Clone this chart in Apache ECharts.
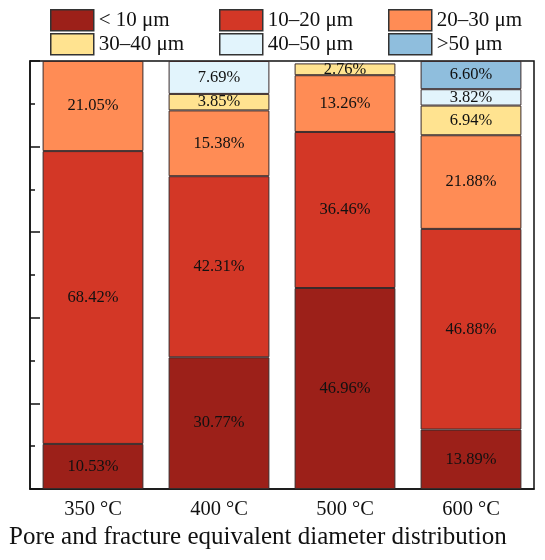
<!DOCTYPE html>
<html><head><meta charset="utf-8">
<script src="https://cdn.jsdelivr.net/npm/echarts@6/dist/echarts.min.js"></script>
<style>html,body{margin:0;padding:0;background:#fff}#c{width:545px;height:560px}</style>
</head><body><div id="c"></div>
<script>
var categories = ['350 °C', '400 °C', '500 °C', '600 °C'];
var seriesNames = ['< 10 μm', '10–20 μm', '20–30 μm', '30–40 μm', '40–50 μm', '>50 μm'];
var lt10 = [10.53, 30.77, 46.96, 13.89];
var s10to20 = [68.42, 42.31, 36.46, 46.88];
var s20to30 = [21.05, 15.38, 13.26, 21.88];
var s30to40 = [null, 3.85, 2.76, 6.94];
var s40to50 = [null, 7.69, null, 3.82];
var gt50 = [null, null, null, 6.60];
var colors = ['#9C2019', '#D33726', '#FF8C55', '#FFE390', '#E2F4FC', '#8FBEDD'];
var allData = [lt10, s10to20, s20to30, s30to40, s40to50, gt50];
var titleText = 'Pore and fracture equivalent diameter distribution';

var font = 'Liberation Serif';
var legendPos = [[50, 9], [219, 9], [388, 9], [50, 33], [219, 33], [388, 33]];
var legends = seriesNames.map(function (n, i) {
  return {
    data: [n], left: legendPos[i][0], top: legendPos[i][1], padding: 0,
    itemWidth: 43, itemHeight: 21, itemGap: 5,
    textStyle: { fontFamily: font, fontSize: 21, color: '#111' },
    itemStyle: { borderColor: '#333', borderWidth: 1.5 },
    icon: 'rect'
  };
});
var series = seriesNames.map(function (n, i) {
  return {
    name: n, type: 'bar', stack: 'all', barWidth: '80%',
    data: allData[i],
    itemStyle: { color: colors[i], borderColor: '#3a2a2a', borderWidth: 1 },
    label: {
      show: true, position: 'inside', color: '#111', fontFamily: font, fontSize: 16.5,
      formatter: function (p) { return p.value == null ? '' : p.value.toFixed(2) + '%'; }
    }
  };
});
var chart = echarts.init(document.getElementById('c'));
chart.setOption({
  animation: false,
  legend: legends,
  title: { text: titleText, left: 9, top: 525, padding: 0, textStyle: { fontFamily: font, fontSize: 25, fontWeight: 'normal', color: '#111' } },
  grid: { left: 30, right: 11, top: 61, bottom: 71, show: true, borderColor: '#111', borderWidth: 1.5 },
  xAxis: {
    type: 'category', data: categories,
    axisLine: { lineStyle: { color: '#111', width: 1.5 } },
    axisTick: { show: false },
    axisLabel: { fontFamily: font, fontSize: 20.5, color: '#111', margin: 10 }
  },
  yAxis: {
    type: 'value', min: 0, max: 100, interval: 20,
    axisLine: { show: true, lineStyle: { color: '#111', width: 1.5 } },
    axisTick: { show: true, inside: true, length: 10, lineStyle: { color: '#111', width: 1.5 } },
    minorTick: { show: true, splitNumber: 2, length: 5, lineStyle: { color: '#111', width: 1.5 } },
    axisLabel: { show: false },
    splitLine: { show: false }
  },
  series: series
});
</script></body></html>
